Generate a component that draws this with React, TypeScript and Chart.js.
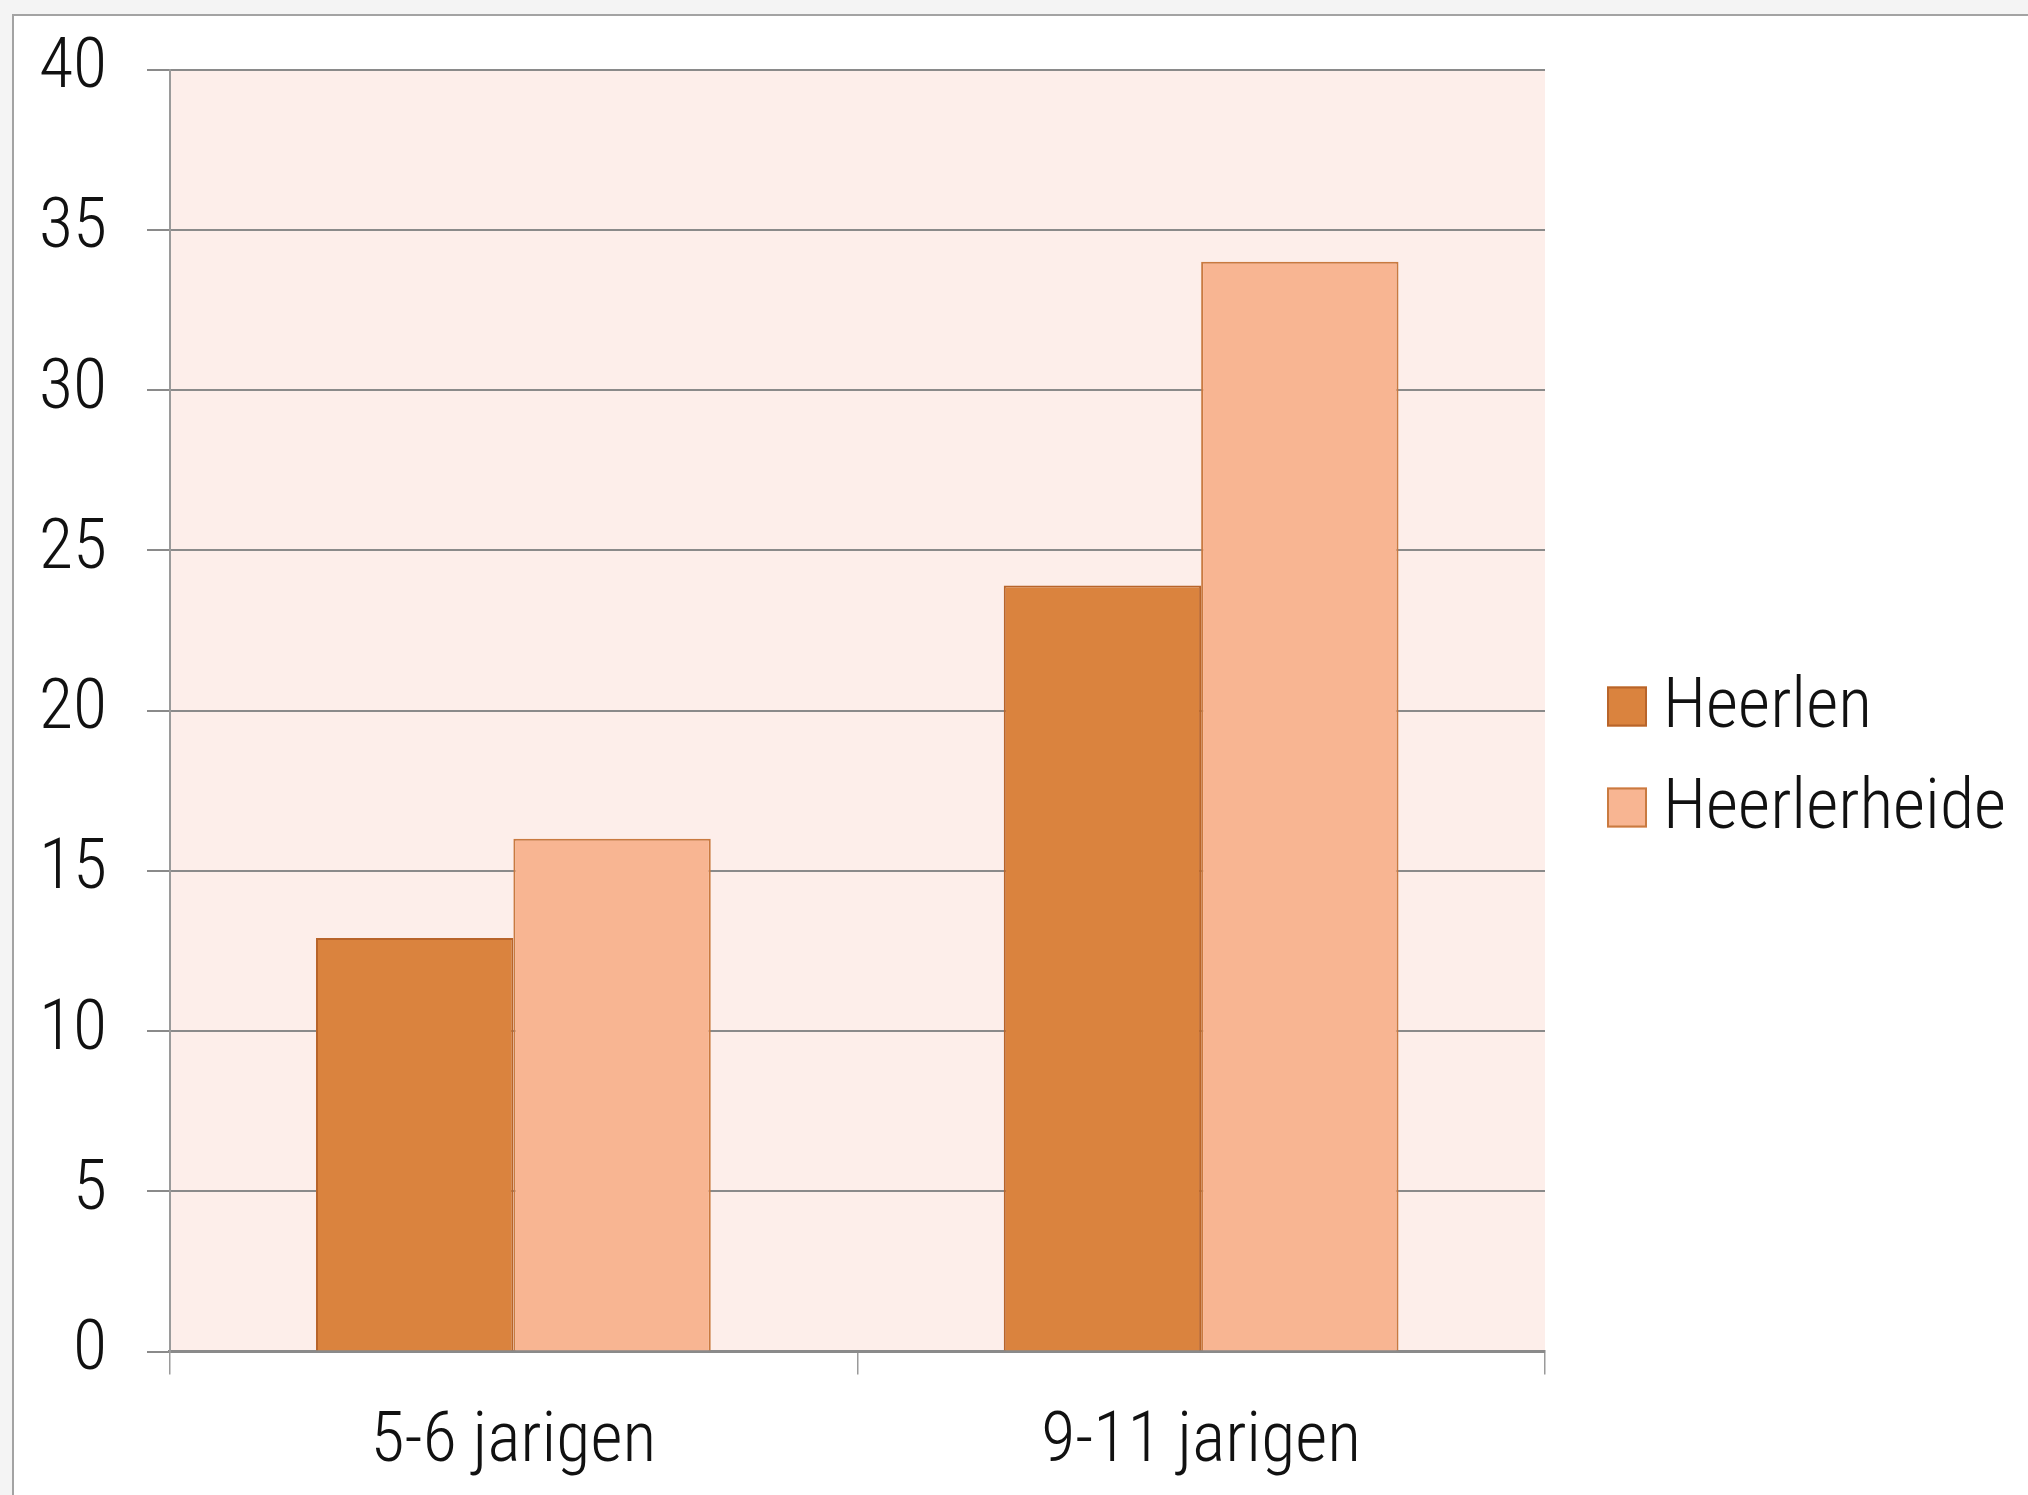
import React, { useEffect, useRef } from "react";
import { Chart, registerables } from "chart.js";

Chart.register(...registerables);

// ---- data ----
const categories = ["5-6 jarigen", "9-11 jarigen"];
const seriesNames = ["Heerlen", "Heerlerheide"];
const heerlenValues = [12.9, 23.9];
const heerlerheideValues = [16.0, 34.0];
const yMin = 0;
const yMax = 40;
const yStep = 5;

// ---- styles ----
const FONT_FAMILY = "'Roboto Condensed', 'DejaVu Sans Condensed', sans-serif";
const FONT_WEIGHT = "300";
const FONT_SIZE = 70;
const TEXT_COLOR = "#111111";
const fills = ["#DA833E", "#F8B592"];
const borders = ["#B8642A", "#C97A40"];

const plotBackground = {
  id: "plotBackground",
  beforeDraw(chart: any) {
    const { ctx, chartArea } = chart;
    ctx.save();
    ctx.fillStyle = "#FDEEEA";
    ctx.fillRect(chartArea.left, chartArea.top, chartArea.right - chartArea.left, chartArea.bottom - chartArea.top);
    ctx.restore();
  },
};

const sideLegend = {
  id: "sideLegend",
  afterDraw(chart: any) {
    const { ctx, chartArea } = chart;
    const boxX = chartArea.right + 62;
    const textX = chartArea.right + 118;
    const firstBaseline = chartArea.top + 657;
    const rowGap = 101;
    const box = 40;
    ctx.save();
    ctx.font = `${FONT_WEIGHT} ${FONT_SIZE}px ${FONT_FAMILY}`;
    ctx.textBaseline = "alphabetic";
    ctx.textAlign = "left";
    chart.data.datasets.forEach((ds: any, i: number) => {
      const base = firstBaseline + i * rowGap;
      ctx.fillStyle = ds.backgroundColor;
      ctx.fillRect(boxX, base - box, box, box);
      ctx.strokeStyle = ds.borderColor;
      ctx.lineWidth = 2;
      ctx.strokeRect(boxX + 1, base - box + 1, box - 2, box - 2);
      ctx.fillStyle = TEXT_COLOR;
      ctx.fillText(ds.label, textX, base);
    });
    ctx.restore();
  },
};

export default function App() {
  const canvasRef = useRef<HTMLCanvasElement | null>(null);

  useEffect(() => {
    if (!canvasRef.current) return;
    const font = { family: FONT_FAMILY, size: FONT_SIZE, weight: FONT_WEIGHT };
    const chart = new Chart(canvasRef.current, {
      type: "bar",
      data: {
        labels: categories,
        datasets: [
          {
            label: seriesNames[0],
            data: heerlenValues,
            backgroundColor: fills[0],
            borderColor: borders[0],
            borderWidth: 2,
          },
          {
            label: seriesNames[1],
            data: heerlerheideValues,
            backgroundColor: fills[1],
            borderColor: borders[1],
            borderWidth: 2,
          },
        ],
      },
      options: {
        responsive: false,
        animation: false,
        devicePixelRatio: 1,
        datasets: { bar: { categoryPercentage: 0.574, barPercentage: 1 } },
        layout: { padding: { left: 0, top: 69.5, right: 483, bottom: 0 } },
        plugins: {
          legend: { display: false },
          tooltip: { enabled: false },
        },
        scales: {
          x: {
            offset: true,
            grid: {
              offset: true,
              drawOnChartArea: false,
              drawTicks: true,
              tickLength: 23,
              color: "#9a9a9a",
              lineWidth: 1.5,
            },
            border: { display: true, color: "#8a8a8a", width: 3 },
            ticks: { font, color: TEXT_COLOR, padding: 27, maxRotation: 0 },
            afterFit: (s: any) => {
              s.height = 143.5;
              s.paddingLeft = 0;
              s.paddingRight = 0;
            },
          },
          y: {
            min: yMin,
            max: yMax,
            ticks: { stepSize: yStep, font, color: TEXT_COLOR, padding: 40, labelOffset: 0 },
            grid: { color: "#8a8a8a", lineWidth: 2, tickLength: 22.5 },
            border: { display: true, color: "#9a9a9a", width: 2 },
            afterFit: (s: any) => {
              s.width = 169.5;
              s.paddingTop = 0;
              s.paddingBottom = 0;
            },
          },
        },
      },
      plugins: [plotBackground, sideLegend],
    } as any);
    return () => chart.destroy();
  }, []);

  return (
    <div>
      <div style={{ position: "fixed", left: 0, top: 0, right: 0, bottom: 0, background: "#f4f4f4" }} />
      <div
        style={{
          position: "fixed",
          left: 12,
          top: 14,
          right: -20,
          bottom: -20,
          border: "2px solid #a3a3a3",
          background: "#ffffff",
        }}
      />
      <canvas
        ref={canvasRef}
        width={2028}
        height={1495}
        style={{ position: "fixed", left: 0, top: 0, width: 2028, height: 1495 }}
      />
    </div>
  );
}
